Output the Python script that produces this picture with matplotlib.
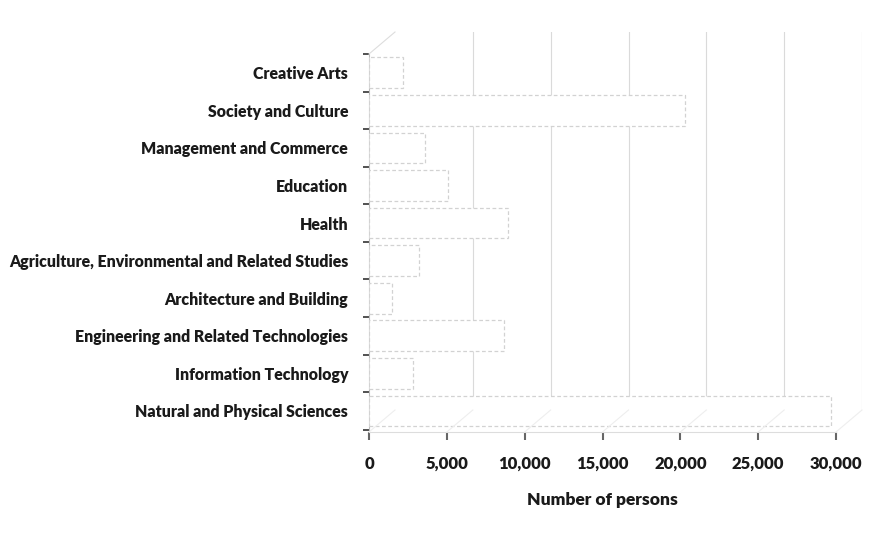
import matplotlib
matplotlib.use("Agg")
import matplotlib.pyplot as plt
from matplotlib.lines import Line2D
import numpy as np

categories = [
    "Natural and Physical Sciences",
    "Information Technology",
    "Engineering and Related Technologies",
    "Architecture and Building",
    "Agriculture, Environmental and Related Studies",
    "Health",
    "Education",
    "Management and Commerce",
    "Society and Culture",
    "Creative Arts",
]
values = [29700, 2800, 8700, 1500, 3200, 8900, 5100, 3600, 20300, 2200]
xticks = [0, 5000, 10000, 15000, 20000, 25000, 30000]
xticklabels = ["0", "5,000", "10,000", "15,000", "20,000", "25,000", "30,000"]
xlabel = "Number of persons"

plt.rcParams['font.family'] = ['Lato', 'DejaVu Sans']
plt.rcParams['font.weight'] = 'heavy'

W, H = 896, 539
fig = plt.figure(figsize=(W / 100, H / 100), dpi=100)
fig.patch.set_facecolor("white")

def rect(l, t, r, b):
    return [l / W, (H - b) / H, (r - l) / W, (b - t) / H]

L, T, R, B = 369, 54, 836, 432
dx, dy = 26, -22

# back wall axes (gridlines)
axb = fig.add_axes(rect(L + dx, T + dy, R + dx, B + dy))
axb.set_xlim(0, 30000)
axb.set_ylim(-0.56, 9.5)
for s in axb.spines.values():
    s.set_visible(False)
axb.set_xticks([])
axb.set_yticks([])
for xv in xticks[1:]:
    axb.axvline(xv, color="#dadada", lw=0.8)
axb.patch.set_alpha(0)

# floor diagonals
for xv in xticks:
    px = L + (R - L) * xv / 30000
    fig.add_artist(Line2D([px / W, (px + dx) / W], [(H - B) / H, (H - B - dy) / H],
                          color="#eeeeee", lw=0.8))
fig.add_artist(Line2D([L / W, (L + dx) / W], [(H - T) / H, (H - T - dy) / H],
                      color="#dddddd", lw=0.8))

# front axes
ax = fig.add_axes(rect(L, T, R, B))
ax.patch.set_alpha(0)
y = np.arange(len(categories))
ax.barh(y, values, height=0.82, left=0, color="white",
        edgecolor="#d2d2d2", linestyle=(0, (3, 2)), linewidth=0.9, zorder=3)
ax.set_xlim(0, 30000)
ax.set_ylim(-0.56, 9.5)
ax.set_xticks(xticks)
ax.set_xticklabels(xticklabels, fontsize=12, fontweight="heavy", color="#1a1a1a")
ax.set_yticks(y)
ax.set_yticklabels(categories, fontsize=11.4, fontweight="heavy", color="#1a1a1a")
ax.set_yticks(np.arange(-0.5, 9.6, 1.0), minor=True)
ax.tick_params(axis="y", which="major", length=0, pad=15)
ax.tick_params(axis="y", which="minor", length=4, width=1.2, color="#333333", direction="out")
ax.tick_params(axis="x", which="major", length=6, width=1.5, color="#666666",
               direction="out", pad=11)
for s in ["top", "right"]:
    ax.spines[s].set_visible(False)
ax.spines["left"].set_color("#bbbbbb")
ax.spines["bottom"].set_color("#dddddd")
ax.set_xlabel(xlabel, fontsize=12.5, fontweight="heavy", color="#1a1a1a", labelpad=15)

fig.savefig("out.png", dpi=100, facecolor="white")
